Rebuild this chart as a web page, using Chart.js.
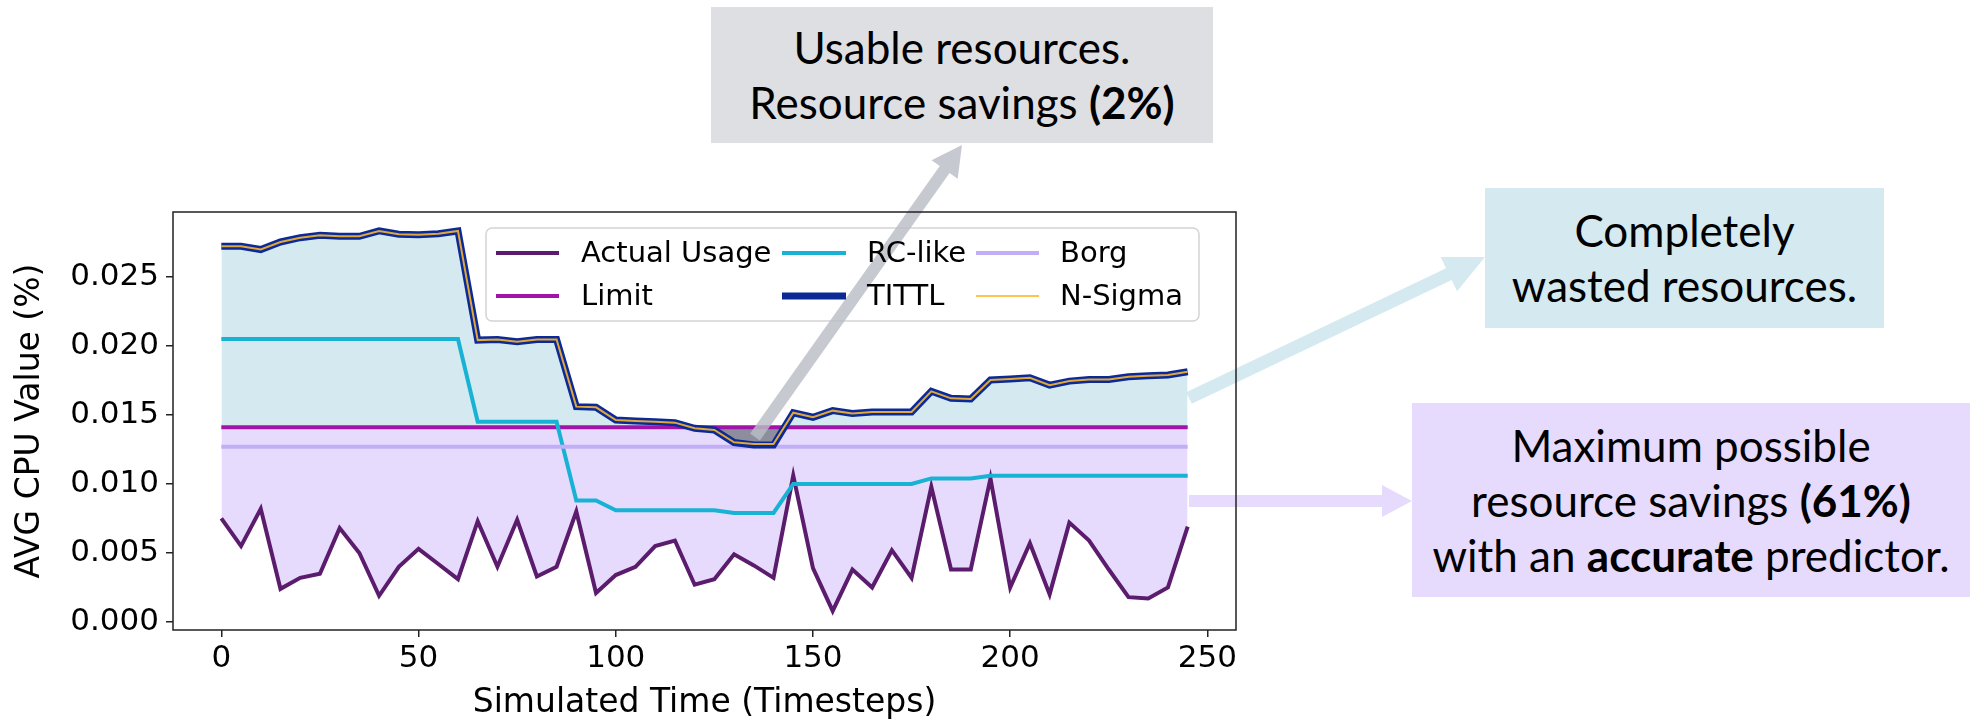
<!DOCTYPE html>
<html>
<head>
<meta charset="utf-8">
<script src="https://cdn.jsdelivr.net/npm/chart.js@4.4.1/dist/chart.umd.min.js"></script>
<style>
  body { margin: 0; background: #fff; overflow: hidden; }
  #wrap { position: relative; width: 1970px; height: 723px; }
  .note {
    position: absolute;
    display: flex; flex-direction: column; justify-content: center; align-items: center;
    font-family: "Lato", "Open Sans", sans-serif;
    font-size: 44px; line-height: 55px; color: #000; text-align: center;
    white-space: nowrap;
  }
  .note b { font-weight: 700; }
</style>
</head>
<body>
<div id="wrap">
  <canvas id="cpu"></canvas>
  <div class="note" style="left:711px; top:7px; width:502px; height:136px; background:#dedfe3;">
    <div>Usable resources.</div>
    <div>Resource savings <b>(2%)</b></div>
  </div>
  <div class="note" style="left:1485px; top:188px; width:399px; height:140px; background:#d4e9f0;">
    <div>Completely</div>
    <div>wasted resources.</div>
  </div>
  <div class="note" style="left:1412px; top:403px; width:558px; height:194px; background:#e6dbfc;">
    <div>Maximum possible</div>
    <div>resource savings <b>(61%)</b></div>
    <div>with an <b>accurate</b> predictor.</div>
  </div>
</div>
<script>
// simulated timesteps (x)
const timesteps = [0, 5, 10, 15, 20, 25, 30, 35, 40, 45, 50, 55, 60, 65, 70, 75, 80, 85, 90, 95,
  100, 105, 110, 115, 120, 125, 130, 135, 140, 145, 150, 155, 160, 165, 170, 175, 180, 185, 190, 195,
  200, 205, 210, 215, 220, 225, 230, 235, 240, 245];

const actualUsage = [0.0075, 0.0055, 0.0082, 0.0024, 0.0032, 0.0035, 0.0068, 0.0050, 0.0019, 0.0040,
  0.0053, 0.0042, 0.0031, 0.0073, 0.0040, 0.0074, 0.0033, 0.0040, 0.0080, 0.0021,
  0.0034, 0.0040, 0.0055, 0.0059, 0.0027, 0.0031, 0.0049, 0.0041, 0.0032, 0.0106,
  0.0039, 0.0008, 0.0038, 0.0025, 0.0052, 0.0032, 0.0098, 0.0038, 0.0038, 0.0104,
  0.0025, 0.0057, 0.0020, 0.0072, 0.0059, 0.0038, 0.0018, 0.0017, 0.0025, 0.0069];

const limit = [0.0141, 0.0141, 0.0141, 0.0141, 0.0141, 0.0141, 0.0141, 0.0141, 0.0141, 0.0141,
  0.0141, 0.0141, 0.0141, 0.0141, 0.0141, 0.0141, 0.0141, 0.0141, 0.0141, 0.0141,
  0.0141, 0.0141, 0.0141, 0.0141, 0.0141, 0.0141, 0.0141, 0.0141, 0.0141, 0.0141,
  0.0141, 0.0141, 0.0141, 0.0141, 0.0141, 0.0141, 0.0141, 0.0141, 0.0141, 0.0141,
  0.0141, 0.0141, 0.0141, 0.0141, 0.0141, 0.0141, 0.0141, 0.0141, 0.0141, 0.0141];

const rcLike = [0.0205, 0.0205, 0.0205, 0.0205, 0.0205, 0.0205, 0.0205, 0.0205, 0.0205, 0.0205,
  0.0205, 0.0205, 0.0205, 0.0145, 0.0145, 0.0145, 0.0145, 0.0145, 0.0088, 0.0088,
  0.0081, 0.0081, 0.0081, 0.0081, 0.0081, 0.0081, 0.0079, 0.0079, 0.0079, 0.0100,
  0.0100, 0.0100, 0.0100, 0.0100, 0.0100, 0.0100, 0.0104, 0.0104, 0.0104, 0.0106,
  0.0106, 0.0106, 0.0106, 0.0106, 0.0106, 0.0106, 0.0106, 0.0106, 0.0106, 0.0106];

const borg = [0.0127, 0.0127, 0.0127, 0.0127, 0.0127, 0.0127, 0.0127, 0.0127, 0.0127, 0.0127,
  0.0127, 0.0127, 0.0127, 0.0127, 0.0127, 0.0127, 0.0127, 0.0127, 0.0127, 0.0127,
  0.0127, 0.0127, 0.0127, 0.0127, 0.0127, 0.0127, 0.0127, 0.0127, 0.0127, 0.0127,
  0.0127, 0.0127, 0.0127, 0.0127, 0.0127, 0.0127, 0.0127, 0.0127, 0.0127, 0.0127,
  0.0127, 0.0127, 0.0127, 0.0127, 0.0127, 0.0127, 0.0127, 0.0127, 0.0127, 0.0127];

const tittl = [0.02722, 0.02722, 0.02698, 0.02753, 0.02784, 0.02801, 0.02794, 0.02794, 0.02833, 0.02809,
  0.02806, 0.02813, 0.02833, 0.02042, 0.02047, 0.02030, 0.02047, 0.02047, 0.01560, 0.01555,
  0.01463, 0.01456, 0.01451, 0.01444, 0.01403, 0.01391, 0.01300, 0.01282, 0.01282, 0.01516,
  0.01483, 0.01531, 0.01511, 0.01521, 0.01521, 0.01521, 0.01671, 0.01620, 0.01615, 0.01753,
  0.01760, 0.01769, 0.01716, 0.01745, 0.01757, 0.01757, 0.01777, 0.01784, 0.01789, 0.01813];

const nSigma = [0.02722, 0.02722, 0.02698, 0.02753, 0.02784, 0.02801, 0.02794, 0.02794, 0.02833, 0.02809,
  0.02806, 0.02813, 0.02833, 0.02042, 0.02047, 0.02030, 0.02047, 0.02047, 0.01560, 0.01555,
  0.01463, 0.01456, 0.01451, 0.01444, 0.01403, 0.01391, 0.01302, 0.01290, 0.01290, 0.01516,
  0.01483, 0.01531, 0.01511, 0.01521, 0.01521, 0.01521, 0.01671, 0.01620, 0.01615, 0.01753,
  0.01760, 0.01769, 0.01716, 0.01745, 0.01757, 0.01757, 0.01777, 0.01784, 0.01789, 0.01813];

const xTicks = [0, 50, 100, 150, 200, 250];
const yTicks = [0, 0.005, 0.010, 0.015, 0.020, 0.025];

const pts = (ys) => timesteps.map((t, i) => ({ x: t, y: ys[i] }));

const BLUE_FILL = '#d4e9f0';
const LAV_FILL = '#e6dbfc';

function arrow(ctx, x0, y0, x1, y1, shaft, headLen, headW, color) {
  const dx = x1 - x0, dy = y1 - y0, len = Math.hypot(dx, dy);
  const ux = dx / len, uy = dy / len, nx = -uy, ny = ux;
  const bx = x1 - ux * headLen, by = y1 - uy * headLen;
  ctx.beginPath();
  ctx.moveTo(x0 + nx * shaft / 2, y0 + ny * shaft / 2);
  ctx.lineTo(bx + nx * shaft / 2, by + ny * shaft / 2);
  ctx.lineTo(bx + nx * headW / 2, by + ny * headW / 2);
  ctx.lineTo(x1, y1);
  ctx.lineTo(bx - nx * headW / 2, by - ny * headW / 2);
  ctx.lineTo(bx - nx * shaft / 2, by - ny * shaft / 2);
  ctx.lineTo(x0 - nx * shaft / 2, y0 - ny * shaft / 2);
  ctx.closePath();
  ctx.fillStyle = color;
  ctx.fill();
}

// legend (3 cols x 2 rows, like matplotlib ncol=3), callout arrows and the axes frame
const overlayPlugin = {
  id: 'overlay',
  afterDraw(chart) {
    const ctx = chart.ctx, a = chart.chartArea, ds = chart.data.datasets;
    ctx.save();

    ctx.beginPath();
    ctx.roundRect(486, 228, 713, 93, 6);
    ctx.fillStyle = 'rgba(255,255,255,0.9)';
    ctx.fill();
    ctx.strokeStyle = '#d4d4d4';
    ctx.lineWidth = 1.5;
    ctx.stroke();

    arrow(ctx, 755, 437, 962, 145, 12, 30, 32, 'rgba(186,189,196,0.82)');

    const cols = [[496, 559, 581], [782, 846, 867], [976, 1039, 1060]];
    const rows = [253, 296];
    ctx.font = '29px "DejaVu Sans"';
    ctx.textBaseline = 'middle';
    ctx.fillStyle = '#000';
    ds.forEach((d, i) => {
      const c = cols[Math.floor(i / 2)], y = rows[i % 2];
      ctx.beginPath();
      ctx.moveTo(c[0], y);
      ctx.lineTo(c[1], y);
      ctx.strokeStyle = d.legendColor || d.borderColor;
      ctx.lineWidth = d.borderWidth;
      ctx.stroke();
      ctx.fillText(d.label, c[2], y + 1);
    });

    arrow(ctx, 1189, 398, 1485, 257, 13, 40, 38, BLUE_FILL);
    arrow(ctx, 1189, 501, 1412, 501, 12, 30, 32, LAV_FILL);

    ctx.strokeStyle = '#222';
    ctx.lineWidth = 1.5;
    ctx.strokeRect(a.left, a.top, a.right - a.left, a.bottom - a.top);
    ctx.restore();
  }
};

Chart.defaults.font.family = '"DejaVu Sans"';
Chart.defaults.color = '#000';

const tickGrid = { display: true, drawOnChartArea: false, drawTicks: true, tickLength: 7, color: '#222', lineWidth: 1.5 };

new Chart(document.getElementById('cpu'), {
  type: 'line',
  data: {
    datasets: [
      { label: 'Actual Usage', data: pts(actualUsage), borderColor: '#5b1c6d', borderWidth: 4, order: 6,
        fill: false },
      { label: 'Limit', data: pts(limit), borderColor: '#a014aa', borderWidth: 4, order: 5,
        fill: { target: 0, above: LAV_FILL, below: 'rgba(0,0,0,0)' } },
      { label: 'RC-like', data: pts(rcLike), borderColor: '#18b2d4', borderWidth: 4, order: 4, fill: false },
      { label: 'TITTL', data: pts(tittl), borderColor: '#0c2a96', borderWidth: 7, order: 2,
        fill: { target: 1, above: BLUE_FILL, below: 'rgba(118,123,134,0.8)' } },
      { label: 'Borg', data: pts(borg), borderColor: '#c2aef7', borderWidth: 4, order: 3, fill: false },
      { label: 'N-Sigma', data: pts(nSigma), borderColor: '#e0a73a', legendColor: '#ffc34d', borderWidth: 2, order: 1,
        fill: false }
    ]
  },
  options: {
    responsive: true,
    maintainAspectRatio: false,
    animation: false,
    layout: { padding: { left: 0, top: 212, right: 734, bottom: 0 } },
    elements: { point: { radius: 0 }, line: { tension: 0 } },
    plugins: {
      legend: { display: false },
      tooltip: { enabled: false },
      filler: { drawTime: 'beforeDatasetsDraw' }
    },
    scales: {
      x: {
        type: 'linear', min: -12.25, max: 257.25,
        afterBuildTicks: (s) => { s.ticks = xTicks.map(v => ({ value: v })); },
        afterFit: (s) => { s.height = 93; },
        ticks: { autoSkip: false, maxRotation: 0, padding: 3, font: { size: 31 }, callback: (v) => String(v) },
        grid: tickGrid,
        border: { display: false },
        title: { display: true, text: 'Simulated Time (Timesteps)', font: { size: 33 }, padding: { top: 0, bottom: 0 } }
      },
      y: {
        min: -0.00058, max: 0.0297,
        afterBuildTicks: (s) => { s.ticks = yTicks.map(v => ({ value: v })); },
        afterFit: (s) => { s.width = 173; },
        ticks: { autoSkip: false, padding: 7, font: { size: 31 }, callback: (v) => v.toFixed(3) },
        grid: tickGrid,
        border: { display: false },
        title: { display: true, text: 'AVG CPU Value (%)', font: { size: 33 }, padding: { top: 11, bottom: 0 } }
      }
    }
  },
  plugins: [overlayPlugin]
});
</script>
</body>
</html>
